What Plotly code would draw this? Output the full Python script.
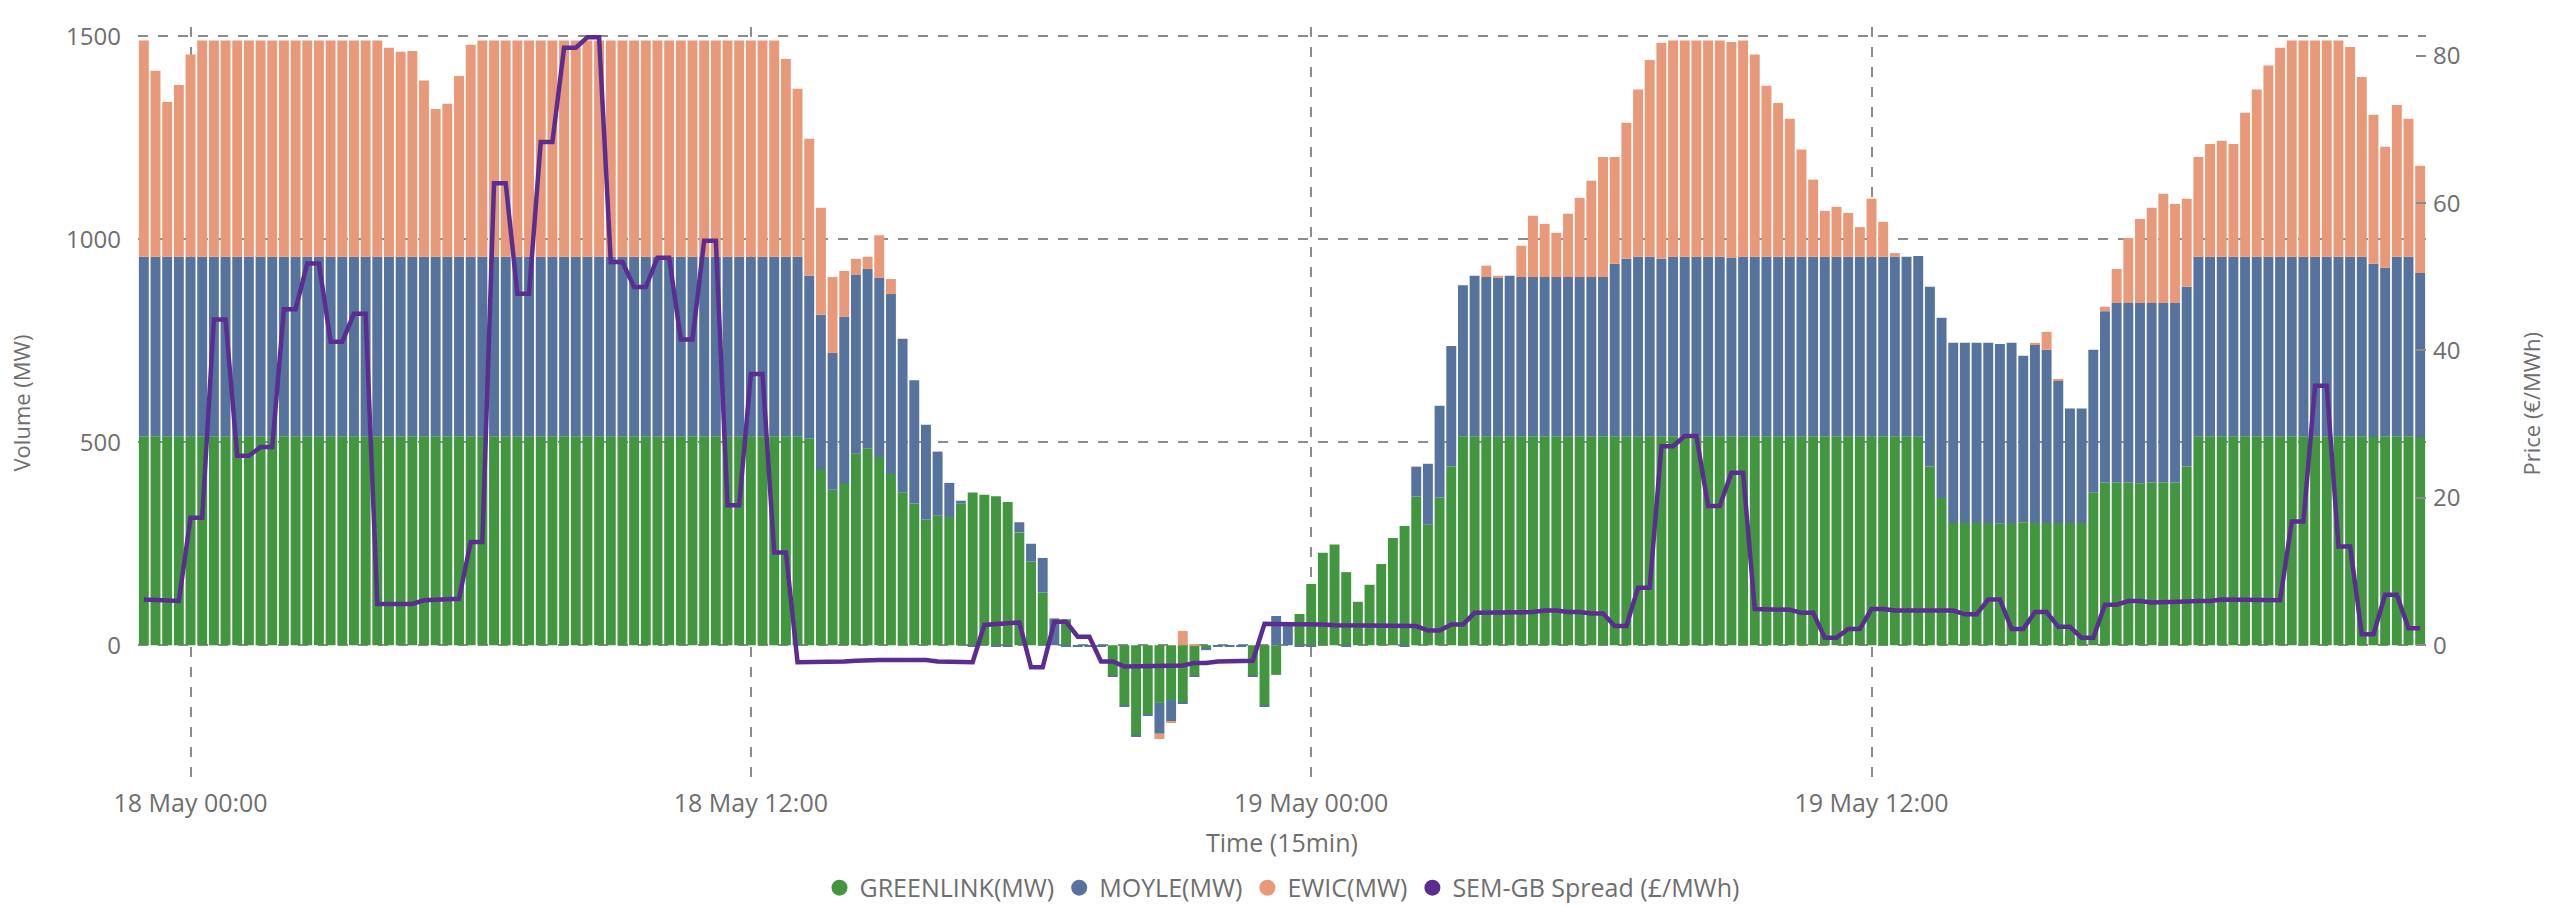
import pandas as pd
import plotly.graph_objects as go

# ---------------- data (15-min intervals, 17 May 23:00 -> 19 May 23:45) ----------------
START = "2025-05-17 23:00"
N_INTERVALS = 196

GREENLINK = [
    515, 515, 515, 515, 515, 515, 515, 515, 515, 515,
    515, 515, 515, 515, 515, 515, 515, 515, 515, 515,
    515, 515, 515, 515, 515, 515, 515, 515, 515, 515,
    515, 515, 515, 515, 515, 515, 515, 515, 515, 515,
    515, 515, 515, 515, 515, 515, 515, 515, 515, 515,
    515, 515, 515, 515, 515, 515, 515, 510, 434, 383,
    397, 472, 485, 464, 422, 377, 349, 310, 319, 316,
    349, 376, 371, 367, 353, 278, 206, 130, 0, 64,
    0, 0, 0, -75, -148, -223, -170, -142, -135, -140,
    -75, -9, 0, 0, 0, -75, -148, -73, 0, 77,
    151, 228, 248, 180, 107, 149, 200, 264, 294, 366,
    298, 364, 440, 515, 515, 515, 515, 515, 515, 515,
    515, 515, 515, 515, 515, 515, 515, 515, 515, 515,
    515, 515, 515, 515, 515, 515, 515, 515, 515, 515,
    515, 515, 515, 515, 515, 515, 515, 515, 515, 515,
    515, 515, 515, 440, 363, 301, 301, 301, 301, 299,
    301, 303, 301, 301, 301, 301, 301, 377, 401, 401,
    401, 399, 401, 401, 401, 440, 515, 515, 515, 515,
    515, 515, 515, 515, 515, 515, 515, 515, 515, 515,
    515, 513, 515, 515, 515, 513,
]

MOYLE = [
    442, 442, 442, 442, 442, 442, 442, 442, 442, 442,
    442, 442, 442, 442, 442, 442, 442, 442, 442, 442,
    442, 442, 442, 442, 442, 442, 442, 442, 442, 442,
    442, 442, 442, 442, 442, 442, 442, 442, 442, 442,
    442, 442, 442, 442, 442, 442, 442, 442, 442, 442,
    442, 442, 442, 442, 442, 442, 442, 400, 380, 337,
    412, 441, 442, 441, 443, 378, 304, 233, 158, 84,
    7, -2, 0, -2, -2, 25, 44, 85, 66, -2,
    -2, -2, -2, -3, -3, -3, -3, -76, -52, -3,
    -3, -3, -2, -2, -2, -3, -3, 72, 52, -2,
    -2, 0, 0, -2, 0, 0, 0, 0, -2, 74,
    149, 226, 297, 372, 395, 392, 392, 395, 392, 392,
    392, 392, 392, 392, 392, 392, 425, 437, 442, 442,
    437, 442, 442, 442, 442, 442, 439, 442, 442, 442,
    442, 442, 442, 442, 442, 442, 442, 442, 442, 442,
    442, 442, 444, 443, 444, 444, 444, 444, 444, 443,
    444, 410, 441, 427, 352, 282, 282, 351, 422, 442,
    442, 444, 442, 442, 442, 443, 442, 442, 442, 442,
    442, 442, 442, 442, 442, 442, 442, 442, 442, 442,
    442, 427, 415, 442, 442, 404,
]

EWIC = [
    533, 458, 381, 423, 498, 533, 533, 533, 533, 533,
    533, 533, 533, 533, 533, 533, 533, 533, 533, 533,
    533, 515, 505, 507, 434, 364, 377, 445, 522, 533,
    533, 533, 533, 533, 533, 533, 533, 533, 533, 533,
    533, 533, 533, 533, 533, 533, 533, 533, 533, 533,
    533, 533, 533, 533, 533, 487, 414, 338, 264, 187,
    113, 39, 30, 105, 37, 0, 0, 0, 0, 0,
    0, 0, 0, 0, 0, 0, 0, 0, 0, 0,
    0, 0, 0, 0, 0, 0, 0, -13, -3, 35,
    3, 0, 0, 0, 0, 0, 0, 0, 0, 0,
    0, 0, 0, 0, 0, 0, 0, 0, 0, 0,
    0, 0, 0, 0, 0, 28, 3, 0, 77, 151,
    131, 109, 156, 195, 237, 296, 263, 335, 412, 485,
    532, 533, 533, 533, 533, 533, 532, 533, 498, 421,
    379, 340, 264, 190, 113, 123, 108, 73, 143, 86,
    9, 0, 0, 0, 0, 0, 0, 0, 0, 0,
    0, 0, 3, 44, 3, 0, 0, 0, 11, 84,
    160, 207, 235, 269, 244, 217, 246, 278, 286, 278,
    355, 412, 471, 515, 533, 533, 533, 533, 533, 517,
    443, 367, 298, 374, 340, 264,
]

SPREAD = [
    6.2, 6.1, 6.1, 6.0,
    17.3, 17.3, 44.2, 44.2, 25.7, 25.7, 26.9, 26.9, 45.6, 45.6,
    51.8, 51.8, 41.2, 41.2, 45.0, 45.0, 5.6, 5.6, 5.6, 5.6,
    6.1, 6.2, 6.3, 6.3, 14.0, 14.0, 62.7, 62.7, 47.7, 47.7,
    68.3, 68.3, 81.1, 81.1, 82.5, 82.5, 52.0, 52.0, 48.6, 48.6,
    52.6, 52.6, 41.5, 41.5, 54.9, 54.9, 19.0, 19.0, 36.8, 36.8,
    12.6, 12.6, -2.3, -2.3, -2.2, -2.2, -2.2, -2.1, -2.0, -2.0,
    -2.0, -2.0, -2.0, -2.0, -2.2, -2.2, -2.2, -2.3, 2.75, 2.9,
    3.1, 3.1, -3.0, -3.0, 3.2, 3.2, 1.15, 1.15, -2.2, -2.2,
    -2.9, -2.9, -2.9, -2.9, -2.8, -2.75, -2.4, -2.4, -2.2, -2.2,
    -2.1, -2.1, 2.9, 2.9, 2.9, 2.9, 2.8, 2.8, 2.7, 2.7,
    2.6, 2.6, 2.6, 2.6, 2.6, 2.6, 2.0, 2.0, 2.8, 2.8,
    4.4, 4.4, 4.5, 4.5, 4.5, 4.5, 4.7, 4.7, 4.5, 4.5,
    4.3, 4.3, 2.6, 2.6, 7.8, 7.8, 27.0, 27.0, 28.4, 28.4,
    18.9, 18.9, 23.4, 23.4, 4.9, 4.9, 4.8, 4.8, 4.4, 4.4,
    1.0, 1.0, 2.2, 2.2, 4.9, 4.9, 4.7, 4.7, 4.7, 4.7,
    4.7, 4.7, 4.2, 4.2, 6.2, 6.2, 2.2, 2.2, 4.5, 4.5,
    2.5, 2.5, 1.0, 1.0, 5.5, 5.5, 6.0, 6.0, 5.8, 5.8,
    5.95, 5.95, 6.0, 6.0, 6.2, 6.2, 6.1, 6.1, 6.1, 6.1,
    16.8, 16.8, 35.2, 35.2, 13.4, 13.4, 1.5, 1.5, 6.85, 6.85,
    2.3, 2.3,
]

SERIES_NAMES = ["GREENLINK(MW)", "MOYLE(MW)", "EWIC(MW)", "SEM-GB Spread (£/MWh)"]
Y_TICKS = [0, 500, 1000, 1500]
Y2_TICKS = [0, 20, 40, 60, 80]

# ---------------- styling ----------------
GREEN = "#41963f"
BLUE = "#55739c"
SALMON = "#e8997a"
PURPLE = "#5c2d91"
GRID = "#8c8c8c"
TEXT = "#6e6e6e"
FONT = "Open Sans"

times = pd.date_range(START, periods=N_INTERVALS, freq="15min")
half = pd.Timedelta(minutes=7.5)

fig = go.Figure()
for vals, name, col in [(GREENLINK, SERIES_NAMES[0], GREEN),
                        (MOYLE, SERIES_NAMES[1], BLUE),
                        (EWIC, SERIES_NAMES[2], SALMON)]:
    fig.add_trace(go.Bar(x=times, y=vals, name=name, marker=dict(color=col, line=dict(width=0)),
                         showlegend=False))

fig.add_trace(go.Scatter(x=times, y=SPREAD, name=SERIES_NAMES[3], yaxis="y2", mode="lines",
                         line=dict(color=PURPLE, width=4.5), showlegend=False))

# legend entries with round symbols
for name, col in zip(SERIES_NAMES, [GREEN, BLUE, SALMON, PURPLE]):
    fig.add_trace(go.Scatter(x=[None], y=[None], mode="markers", name=name,
                             marker=dict(color=col, size=18), showlegend=True))

L, R, T, B = 138, 137, 27, 127
W, H = 2563, 907
plot_w = W - L - R
plot_h = H - T - B

fig.update_layout(
    width=W, height=H,
    margin=dict(l=L, r=R, t=T, b=B, autoexpand=False),
    barmode="relative", bargap=0.15,
    plot_bgcolor="white", paper_bgcolor="white",
    font=dict(family=FONT, size=24, color=TEXT),
    legend=dict(orientation="h", x=0.5, xanchor="center", yref="container", y=0.021, yanchor="middle",
                font=dict(size=25, color=TEXT), itemwidth=30, tracegroupgap=0,
                bgcolor="rgba(0,0,0,0)"),
    xaxis=dict(type="date", range=[times[0] - half, times[-1] + half],
               tickmode="linear", tick0="2025-05-18 00:00", dtick=12 * 3600 * 1000,
               tickformat="%d %b %H:%M", tickfont=dict(size=25, color=TEXT),
               showgrid=True, gridcolor=GRID, gridwidth=1.8, griddash="10px,10px",
               zeroline=False, showline=False, ticks="", ticklabelstandoff=6,
               automargin=False),
    yaxis=dict(range=[-332, 1523], tickvals=Y_TICKS, tickfont=dict(size=24, color=TEXT),
               showgrid=True, gridcolor=GRID, gridwidth=1.8, griddash="10px,10px",
               zeroline=False, showline=False, ticks="", ticklabelstandoff=16,
               automargin=False),
    yaxis2=dict(range=[-18.29, 83.90], tickvals=Y2_TICKS, overlaying="y", side="right",
                tickfont=dict(size=24, color=TEXT), showgrid=False, zeroline=False, showline=False,
                ticks="inside", ticklen=10, tickwidth=1.5, tickcolor=GRID, ticklabelstandoff=6,
                automargin=False),
    annotations=[
        dict(text="Time (15min)", xref="paper", yref="paper", x=0.5, y=(H - B - 842) / plot_h,
             xanchor="center", yanchor="middle", showarrow=False, font=dict(size=25, color=TEXT)),
        dict(text="Volume (MW)", xref="paper", yref="paper", x=(20 - L) / plot_w, y=0.5,
             xanchor="center", yanchor="middle", textangle=-90, showarrow=False,
             font=dict(size=22, color=TEXT)),
        dict(text="Price (€/MWh)", xref="paper", yref="paper", x=(2530 - L) / plot_w, y=0.5,
             xanchor="center", yanchor="middle", textangle=-90, showarrow=False,
             font=dict(size=22, color=TEXT)),
    ],
)

fig.write_html("out.html", config={"displayModeBar": False},
               post_script="document.body.style.margin='0';")
